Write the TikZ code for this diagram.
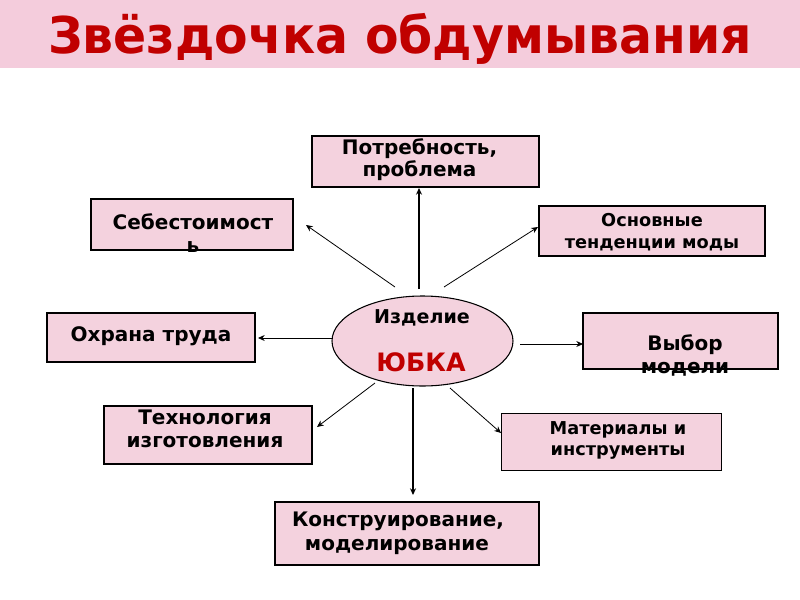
\documentclass[tikz,border=0pt]{standalone}
\usepackage{fontspec}
\setmainfont{DejaVu Sans}
\newfontfamily\titlefont[FakeStretch=0.965]{DejaVu Sans}
\usetikzlibrary{arrows.meta,shapes.geometric}
\definecolor{band}{HTML}{F4CCDC}
\definecolor{boxfill}{HTML}{F4D2DE}
\definecolor{titlered}{HTML}{C00000}
\begin{document}
\begin{tikzpicture}[x=0.75pt,y=-0.75pt,
  box/.style={draw=black,line width=0.8pt,fill=boxfill,inner sep=0pt,outer sep=0pt},
  lbl/.style={font=\fontsize{15}{18}\selectfont\bfseries,inner sep=0pt,anchor=base},
  slbl/.style={font=\fontsize{13.3}{16}\selectfont\bfseries,inner sep=0pt,anchor=base},
  arr/.style={draw=black,line width=0.6pt,-{Stealth[length=5pt,width=4.5pt]}},
  varr/.style={arr,line width=0.9pt}]
\useasboundingbox (0,0) rectangle (800,600);
\fill[white] (0,0) rectangle (800,600);
\fill[band] (0,0) rectangle (800,68);
\node[font=\titlefont\fontsize{38}{42}\selectfont\bfseries,text=titlered,inner sep=0pt,anchor=base] (title) at (400,53) {Звёздочка обдумывания};

\newcommand{\bx}[5]{\node[box,minimum width=#4*0.75pt,minimum height=#5*0.75pt] (#1) at (#2,#3) {};}
\bx{potr}{425.5}{161.5}{227}{51}
\bx{seb}{192}{224.5}{202}{51}
\bx{osn}{652}{231}{226}{50}
\bx{ohr}{151}{337.5}{208}{49}
\bx{vyb}{680.5}{341}{195}{56}
\bx{tech}{208}{435}{208}{58}
\bx{mat}{611.5}{442}{220}{57}
\bx{kon}{407}{533.5}{264}{63}
\node[ellipse,draw=black,line width=0.8pt,fill=boxfill,minimum width=181*0.75pt,minimum height=90*0.75pt,inner sep=0pt] (ell) at (422.5,341) {};

\node[lbl] (tpotr1) at (419.5,154) {Потребность,};
\node[lbl] (tpotr2) at (419.5,176) {проблема};
\node[lbl] (tseb1) at (193,229) {Себестоимост};
\node[lbl] (tseb2) at (193,252) {ь};
\node[slbl] (tosn1) at (652,226) {Основные};
\node[slbl] (tosn2) at (652,248) {тенденции моды};
\node[lbl] (tohr) at (151,341) {Охрана труда};
\node[lbl] (tvyb1) at (685,350) {Выбор};
\node[lbl] (tvyb2) at (685,373) {модели};
\node[lbl] (ttech1) at (205,424) {Технология};
\node[lbl] (ttech2) at (205,447) {изготовления};
\node[slbl] (tmat1) at (618,434) {Материалы и};
\node[slbl] (tmat2) at (618,455) {инструменты};
\node[lbl] (tkon1) at (398,526) {Конструирование,};
\node[lbl] (tkon2) at (397,550) {моделирование};
\node[font=\fontsize{14.3}{16}\selectfont\bfseries,inner sep=0pt,anchor=base] (tizd) at (422,323) {Изделие};
\node[font=\fontsize{19}{22}\selectfont\bfseries,text=titlered,inner sep=0pt,anchor=base] (tyub) at (421,371) {ЮБКА};

\coordinate (s1) at (419,289);
\coordinate (e1) at (419,188);
\coordinate (s2) at (395,287);
\coordinate (e2) at (306,225);
\coordinate (s3) at (444,287);
\coordinate (e3) at (538,227);
\coordinate (s4) at (332,338);
\coordinate (e4) at (258,338);
\coordinate (s5) at (520,344);
\coordinate (e5) at (583,344);
\coordinate (s6) at (375,383);
\coordinate (e6) at (317,427);
\coordinate (s7) at (450,388);
\coordinate (e7) at (501,433);
\coordinate (s8) at (413,388);
\coordinate (e8) at (413,495);

\draw[varr] (s1) -- (e1);
\draw[arr] (s2) -- (e2);
\draw[arr] (s3) -- (e3);
\draw[arr] (s4) -- (e4);
\draw[arr] (s5) -- (e5);
\draw[arr] (s6) -- (e6);
\draw[arr] (s7) -- (e7);
\draw[varr] (s8) -- (e8);
\end{tikzpicture}
\end{document}
